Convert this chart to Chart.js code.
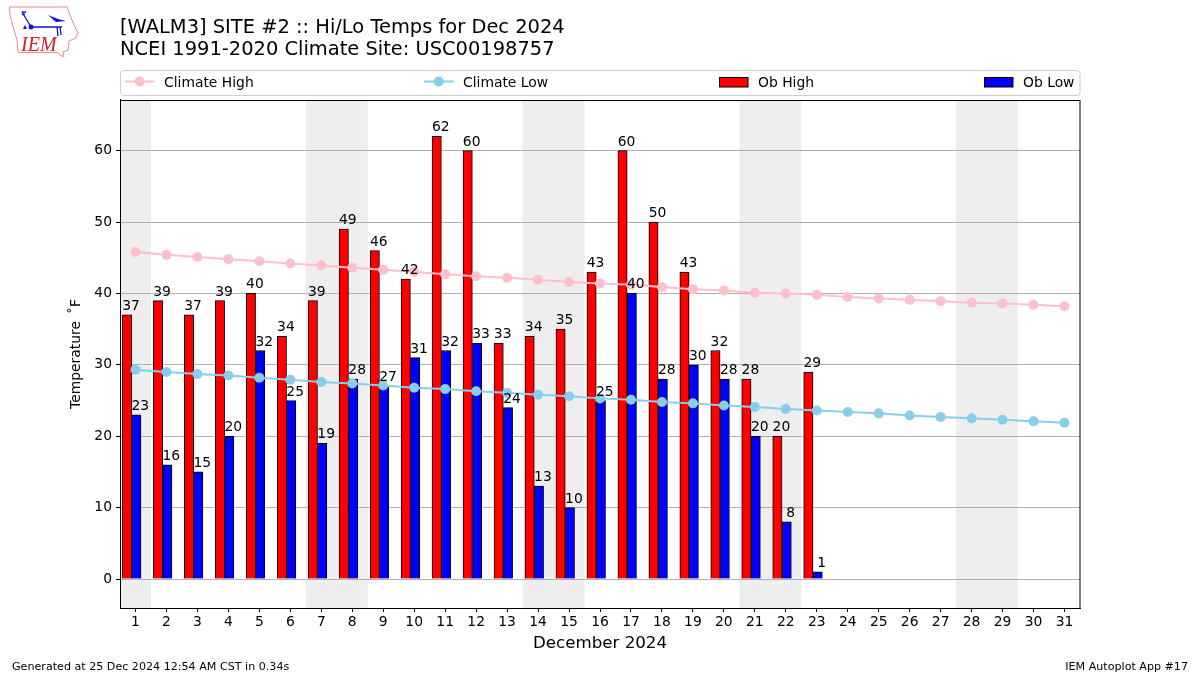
<!DOCTYPE html>
<html>
<head>
<meta charset="utf-8">
<style>
html,body{margin:0;padding:0;background:#fff;width:1200px;height:675px;overflow:hidden}
#wrap{position:relative;width:1200px;height:675px}
canvas{position:absolute;left:0;top:0}
svg{position:absolute;left:0;top:0}
</style>
<script src="https://cdn.jsdelivr.net/npm/chart.js@4"></script>
</head>
<body>
<div id="wrap">
<canvas id="c" width="1200" height="675"></canvas>
<svg width="90" height="62" viewBox="0 0 90 62">
  <path d="M9.5,7 L67,7 L70,15 L74,25 L78,33 L76,38 L69,41 L68,50 L63,52 L64,57 L60,55 L58,52.500 L18,52.500 L17,40 L12,23 L10,15 Z" fill="#fff" stroke="#e88a8a" stroke-width="1"/>
  <path d="M31,27 L62,27 M57,27 L58,36 M60,27 L61,35 M22,12 L28,22 L31,27 M22,12 L26,12 M22,15 L25,14" stroke="#1010d8" stroke-width="1.300" fill="none"/>
  <circle cx="31" cy="27" r="2.500" fill="#1010d8"/>
  <path d="M48,15 L58,19 L66,21 L56,22 Z" fill="#1010d8"/>
  <path d="M23,29 L25,25 L27,29 Z" fill="#1010d8"/>
  <text x="21" y="51" font-family="Liberation Serif" font-style="italic" font-size="20" fill="#d0202a">IEM</text>
</svg>
</div>
<script>
const days = [1,2,3,4,5,6,7,8,9,10,11,12,13,14,15,16,17,18,19,20,21,22,23,24,25,26,27,28,29,30,31];
const climateHigh = [45.8,45.4,45.1,44.8,44.5,44.2,43.9,43.6,43.3,43.0,42.7,42.4,42.2,41.9,41.6,41.4,41.2,40.9,40.6,40.4,40.1,40.0,39.8,39.5,39.3,39.1,38.9,38.7,38.6,38.4,38.2];
const climateLow = [29.3,29.0,28.7,28.5,28.2,27.9,27.6,27.4,27.1,26.8,26.6,26.3,26.1,25.8,25.6,25.3,25.1,24.8,24.6,24.3,24.1,23.8,23.6,23.4,23.2,22.9,22.7,22.5,22.3,22.1,21.9];
const obHigh = [37,39,37,39,40,34,39,49,46,42,62,60,33,34,35,43,60,50,43,32,28,20,29];
const obLow = [23,16,15,20,32,25,19,28,27,31,32,33,24,13,10,25,40,28,30,28,20,8,1];
const weekendRanges = [[0.5,1.5],[6.5,8.5],[13.5,15.5],[20.5,22.5],[27.5,29.5]];
const titleLines = ["[WALM3] SITE #2 :: Hi/Lo Temps for Dec 2024","NCEI 1991-2020 Climate Site: USC00198757"];
const xTitle = "December 2024";
const yTitle = "Temperature \u2009\u02daF";
const footLeft = "Generated at 25 Dec 2024 12:54 AM CST in 0.34s";
const footRight = "IEM Autoplot App #17";
const FONT = "'DejaVu Sans'";

const toXY = a => a.map((v,i)=>({x:days[i],y:v}));

const shade = {
  id:'shade',
  beforeDraw(ch){
    const {ctx,chartArea:a} = ch, sx = ch.scales.x;
    ctx.save();
    ctx.fillStyle = '#eeeeee';
    const w = sx.getPixelForValue(1)-sx.getPixelForValue(0);
    const p0 = sx.getPixelForValue(0);
    weekendRanges.forEach(([s,e])=>{
      const l = p0+(s-1)*w, r = p0+(e-1)*w;
      ctx.fillRect(l,a.top,r-l,a.bottom-a.top);
    });
    ctx.restore();
  }
};
const valueLabels = {
  id:'valueLabels',
  afterDatasetsDraw(ch){
    const {ctx} = ch;
    ctx.save();
    ctx.font = '13.89px '+FONT;
    ctx.fillStyle = '#000';
    ctx.textAlign = 'center';
    ctx.textBaseline = 'alphabetic';
    ch.data.datasets.forEach((ds,i)=>{
      if(ds.type!=='bar') return;
      ch.getDatasetMeta(i).data.forEach((el,j)=>{
        ctx.fillText(String(ds.data[j].y), el.x+4, el.y-5);
      });
    });
    ctx.restore();
  }
};
const frame = {
  id:'frame',
  afterDraw(ch){
    const {ctx,chartArea:a} = ch;
    ctx.save();
    ctx.strokeStyle='#000';ctx.lineWidth=1;
    ctx.strokeRect(Math.round(a.left)+0.5,Math.round(a.top)+0.5,Math.round(a.right-a.left)-0.5,Math.round(a.bottom-a.top));
    // legend
    ctx.strokeStyle='#cccccc';
    ctx.fillStyle='#fff';
    ctx.beginPath();ctx.roundRect(120.5,70.5,959.5,25,3);ctx.fill();ctx.stroke();
    ctx.font='13.89px '+FONT;
    ctx.textBaseline='alphabetic';ctx.textAlign='left';
    const y=81.5;
    const items=[[125,ch.data.datasets[0]],[424,ch.data.datasets[1]],[719,ch.data.datasets[2]],[984,ch.data.datasets[3]]];
    items.forEach(([x,ds])=>{
      if(ds.type==='line'){
        ctx.strokeStyle=ds.borderColor;ctx.lineWidth=2;
        ctx.beginPath();ctx.moveTo(x,y);ctx.lineTo(x+29.5,y);ctx.stroke();
        ctx.fillStyle=ds.borderColor;
        ctx.beginPath();ctx.arc(x+14.7,y,5,0,Math.PI*2);ctx.fill();
      }else{
        ctx.fillStyle=ds.backgroundColor;ctx.strokeStyle='#000';ctx.lineWidth=1;
        ctx.fillRect(x,77,29,10);ctx.strokeRect(x+0.5,77.5,28.5,9.5);
      }
      ctx.fillStyle='#000';
      ctx.fillText(ds.label,x+39,86.5);
    });
    // footers
    ctx.font='11.11px '+FONT;
    ctx.fillStyle='#000';
    ctx.textAlign='left';ctx.fillText(footLeft,12,670);
    ctx.textAlign='right';ctx.fillText(footRight,1188,670);
    ctx.restore();
  }
};

new Chart(document.getElementById('c'),{
  type:'bar',
  data:{
    labels:days.map(String),
    datasets:[
      {type:'line',label:'Climate High',data:climateHigh,xAxisID:'x',yAxisID:'y',borderColor:'#ffc0cb',backgroundColor:'#ffc0cb',borderWidth:2,pointRadius:5,pointHoverRadius:5,pointBorderWidth:0,pointBackgroundColor:'#ffc0cb',tension:0,order:0},
      {type:'line',label:'Climate Low',data:climateLow,xAxisID:'x',yAxisID:'y',borderColor:'#87ceeb',backgroundColor:'#87ceeb',borderWidth:2,pointRadius:5,pointHoverRadius:5,pointBorderWidth:0,pointBackgroundColor:'#87ceeb',tension:0,order:0},
      {type:'bar',label:'Ob High',data:toXY(obHigh),xAxisID:'xb',yAxisID:'y',backgroundColor:'#ff0000',borderColor:'#000',borderWidth:1,barThickness:9.3,order:1},
      {type:'bar',label:'Ob Low',data:toXY(obLow),xAxisID:'xb',yAxisID:'y',backgroundColor:'#0000ff',borderColor:'#000',borderWidth:1,barThickness:9.3,order:1}
    ]
  },
  options:{
    responsive:false,
    animation:false,
    devicePixelRatio:1,
    layout:{padding:{left:0,right:120,top:0,bottom:0}},
    plugins:{
      legend:{display:false},
      tooltip:{enabled:false},
      title:{display:true,text:titleLines,align:'start',fullSize:false,color:'#000',
        font:{family:FONT,size:19.44,weight:'normal',lineHeight:1.13},
        padding:{top:17,bottom:39}}
    },
    scales:{
      x:{type:'category',offset:true,
        grid:{offset:false,drawOnChartArea:false,drawTicks:true,tickLength:4,tickColor:'#000',tickWidth:1},
        border:{display:true,color:'#000'},
        ticks:{color:'#000',font:{family:FONT,size:13.89},autoSkip:false,maxRotation:0,minRotation:0,padding:2},
        title:{display:true,text:xTitle,color:'#000',font:{family:FONT,size:16.67},padding:{top:0,bottom:21}},
        afterFit(s){s.height=67;}
      },
      xb:{type:'linear',display:false,offset:false,min:0.622,max:31.622,grid:{display:false}},
      y:{type:'linear',min:-4.06,max:67.1,
        grid:{color:'#b0b0b0',lineWidth:1,tickLength:4,tickColor:'#000'},
        border:{display:true,color:'#000'},
        ticks:{stepSize:10,includeBounds:false,color:'#000',font:{family:FONT,size:13.89},padding:4},
        title:{display:true,text:yTitle,color:'#000',font:{family:FONT,size:13.89},padding:{top:68,bottom:0}},
        afterFit(s){s.width=120;}
      }
    }
  },
  plugins:[shade,valueLabels,frame]
});
</script>
</body>
</html>
